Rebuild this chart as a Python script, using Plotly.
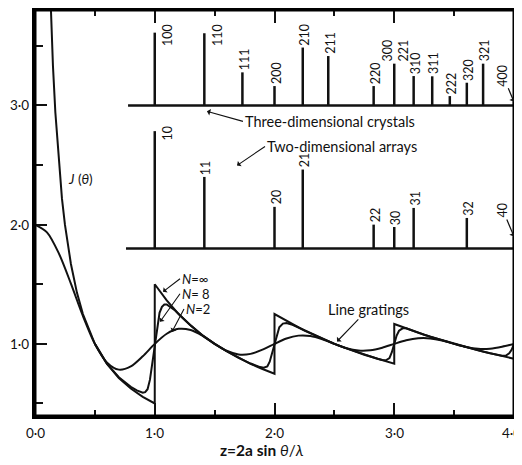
import plotly.graph_objects as go

# ---------------- data ----------------
# Line grating, N = infinity (identical to J(theta) for z < 1)
z_inf = [0.12, 0.13, 0.14, 0.15, 0.17, 0.2, 0.225, 0.25, 0.3, 0.35, 0.4, 0.5, 0.6, 0.7, 0.8, 0.9, 1.0,
         1.0, 1.1, 1.2, 1.3, 1.4, 1.5, 1.6, 1.7, 1.8, 1.9, 2.0,
         2.0, 2.25, 2.5, 2.75, 3.0,
         3.0, 3.25, 3.5, 3.75, 4.0]
v_inf = [4.17, 3.85, 3.57, 3.33, 2.94, 2.5, 2.22, 2.0, 1.67, 1.43, 1.25, 1.0, 0.833, 0.714, 0.625, 0.556, 0.5,
         1.5, 1.364, 1.25, 1.154, 1.071, 1.0, 0.938, 0.882, 0.833, 0.789, 0.75,
         1.25, 1.111, 1.0, 0.909, 0.833,
         1.167, 1.077, 1.0, 0.933, 0.875]

# Line grating, N = 8
z_n8 = [0.5, 0.6, 0.7, 0.8, 0.85, 0.88, 0.9, 0.92, 0.94, 0.96, 0.98, 1.0, 1.02, 1.04, 1.06, 1.08, 1.1,
        1.13, 1.17, 1.22, 1.3, 1.4, 1.5, 1.6, 1.7, 1.8, 1.85, 1.88, 1.91, 1.94, 1.96, 1.98, 2.0,
        2.02, 2.04, 2.07, 2.1, 2.15, 2.2, 2.3, 2.4, 2.5, 2.6, 2.7, 2.8, 2.86, 2.9, 2.93, 2.96, 2.98,
        3.0, 3.02, 3.04, 3.07, 3.1, 3.15, 3.2, 3.3, 3.4, 3.5, 3.6, 3.7, 3.8, 3.86, 3.9, 3.93, 3.96,
        3.98, 4.0]
v_n8 = [1.0, 0.835, 0.72, 0.64, 0.61, 0.595, 0.59, 0.595, 0.62, 0.7, 0.84, 1.0, 1.15, 1.26, 1.31, 1.33, 1.33,
        1.31, 1.28, 1.23, 1.155, 1.07, 1.0, 0.94, 0.882, 0.835, 0.815, 0.805, 0.80, 0.81, 0.85, 0.92, 1.0,
        1.08, 1.14, 1.17, 1.175, 1.16, 1.137, 1.087, 1.042, 1.0, 0.962, 0.926, 0.893, 0.875, 0.865, 0.862,
        0.88, 0.93,
        1.0, 1.07, 1.11, 1.13, 1.13, 1.11, 1.094, 1.06, 1.03, 1.0, 0.972, 0.946, 0.921, 0.907, 0.9, 0.9,
        0.92, 0.95, 1.0]

# Line grating, N = 2
z_n2 = [0.0, 0.1, 0.2, 0.3, 0.4, 0.5, 0.6, 0.7, 0.8, 0.9, 1.0, 1.1, 1.2, 1.3, 1.4, 1.5, 1.6, 1.7, 1.8,
        1.9, 2.0, 2.1, 2.2, 2.3, 2.4, 2.5, 2.6, 2.7, 2.8, 2.9, 3.0, 3.1, 3.2, 3.3, 3.4, 3.5, 3.6, 3.7,
        3.8, 3.9, 4.0]
v_n2 = [2.0, 1.935, 1.757, 1.505, 1.234, 1.0, 0.844, 0.784, 0.811, 0.896, 1.0, 1.085, 1.126, 1.116,
        1.067, 1.0, 0.942, 0.911, 0.916, 0.951, 1.0, 1.045, 1.069, 1.066, 1.039, 1.0, 0.964, 0.944,
        0.946, 0.968, 1.0, 1.030, 1.047, 1.046, 1.028, 1.0, 0.974, 0.959, 0.960, 0.976, 1.0]

# Three-dimensional crystals
labels3 = ["100", "110", "111", "200", "210", "211", "220", "300, 221", "310", "311", "222", "320", "321", "400"]
pos3 = [1.0, 1.414, 1.732, 2.0, 2.236, 2.449, 2.828, 3.0, 3.162, 3.317, 3.464, 3.606, 3.742, 4.0]
top3 = [3.61, 3.605, 3.277, 3.162, 3.485, 3.414, 3.162, 3.35, 3.246, 3.244, 3.078, 3.19, 3.35, 3.03]
base3 = 3.0
start3 = 0.777

# Two-dimensional arrays
labels2 = ["10", "11", "20", "21", "22", "30", "31", "32", "40"]
pos2 = [1.0, 1.414, 2.0, 2.236, 2.828, 3.0, 3.162, 3.606, 4.0]
top2 = [2.784, 2.40, 2.149, 2.462, 2.0, 1.98, 2.14, 2.056, 1.90]
base2 = 1.80
start2 = 0.76

x_ticks = [0, 1, 2, 3, 4]
x_ticktext = ["0·0", "1·0", "2·0", "3·0", "4·0"]
x_minor = [0.5, 1.5, 2.5, 3.5]
y_ticks = [1, 2, 3]
y_ticktext = ["1·0", "2·0", "3·0"]
y_minor = [0.5, 1.5, 2.5, 3.5]

# ---------------- figure ----------------
INK = "#111111"
FONT = "Lato"

fig = go.Figure()

line_style = dict(color=INK, width=2)
fig.add_trace(go.Scatter(x=z_n2, y=v_n2, mode="lines", line=dict(shape="spline", smoothing=0.8, **line_style)))
fig.add_trace(go.Scatter(x=z_n8, y=v_n8, mode="lines", line=line_style))
fig.add_trace(go.Scatter(x=z_inf, y=v_inf, mode="lines", line=line_style))


def spikes(pos, top, base, start):
    xs, ys = [start, 4.0, None], [base, base, None]
    for p, t in zip(pos, top):
        xs += [p, p, None]
        ys += [base, t, None]
    return xs, ys


for pos, top, base, start in [(pos3, top3, base3, start3), (pos2, top2, base2, start2)]:
    xs, ys = spikes(pos, top, base, start)
    fig.add_trace(go.Scatter(x=xs, y=ys, mode="lines", line=dict(color=INK, width=2.5)))

annotations = []


def add_labels(labels, pos, top, beside_limit):
    for lab, p, t in zip(labels, pos, top):
        text = lab.replace(", ", "<br>")
        common = dict(x=p, y=t, text=text, textangle=-90, font=dict(family=FONT, size=12.5, color=INK))
        if p >= 4.0:
            annotations.append(dict(showarrow=True, arrowhead=1, arrowsize=1, arrowwidth=1.2,
                                    arrowcolor=INK, ax=-11, ay=-26, **common))
        elif t > beside_limit:
            annotations.append(dict(showarrow=False, xanchor="left", yanchor="middle",
                                    xshift=3, yshift=-2, **common))
        else:
            annotations.append(dict(showarrow=False, xanchor="center", yanchor="bottom",
                                    xshift=1.5, yshift=0, **common))


add_labels(labels3, pos3, top3, 3.55)
add_labels(labels2, pos2, top2, 2.6)

tick_font = dict(family=FONT, size=13.5, color=INK)
for v, t in zip(x_ticks, x_ticktext):
    annotations.append(dict(x=v, y=0, yref="paper", text=t, showarrow=False,
                            xanchor="center", yanchor="middle", yshift=-17,
                            xshift=-3 if v == x_ticks[-1] else 0, font=tick_font))
for v, t in zip(y_ticks, y_ticktext):
    annotations.append(dict(x=0, xref="paper", y=v, text=t, showarrow=False,
                            xanchor="right", yanchor="middle", xshift=-4, font=tick_font))

txt_font = dict(family=FONT, size=14.5, color=INK)
arrow = dict(showarrow=True, arrowhead=1, arrowsize=1, arrowwidth=1.1, arrowcolor=INK)
n_font = dict(family=FONT, size=13, color=INK)

annotations += [
    dict(x=1.436, y=2.95, text="Three-dimensional crystals", xanchor="left", yanchor="middle",
         ax=36, ay=10, font=txt_font, **arrow),
    dict(x=1.687, y=2.496, text="Two-dimensional arrays", xanchor="left", yanchor="middle",
         ax=28, ay=-19, font=txt_font, **arrow),
    dict(x=2.522, y=1.02, text="Line gratings", ax=31, ay=-32, font=txt_font, **arrow),
    dict(x=0.376, y=2.38, text="<i>J</i> (<i>θ</i>)", showarrow=False, font=dict(family=FONT, size=13.5, color=INK)),
    dict(x=1.069, y=1.437, text="<i>N</i>=∞", xanchor="left", yanchor="middle", ax=17, ay=-13,
         font=n_font, **arrow),
    dict(x=1.044, y=1.185, text="<i>N</i>= 8", xanchor="left", yanchor="middle", ax=20, ay=-28,
         font=n_font, **arrow),
    dict(x=1.144, y=1.10, text="<i>N</i>=2", xanchor="left", yanchor="middle", ax=12, ay=-23,
         font=n_font, **arrow),
    dict(x=0.474, y=0, xref="paper", yref="paper", yshift=-34, xanchor="center", yanchor="middle",
         showarrow=False, text="<b>z=2a sin </b><i>θ</i>/<i>λ</i>", font=dict(family=FONT, size=15.5, color=INK)),
]

# the page body has an 8 px margin, so the figure is drawn 8 px smaller
fig.update_layout(
    width=514, height=457,
    margin=dict(l=27, r=8, t=2, b=49, autoexpand=False),
    paper_bgcolor="white", plot_bgcolor="white",
    showlegend=False,
    annotations=annotations,
    font=dict(family=FONT, color=INK),
    shapes=[dict(type="rect", xref="paper", yref="paper", x0=0, y0=0, x1=1, y1=1,
                 line=dict(color="#000000", width=3))],
)

fig.update_xaxes(
    range=[0, 4], showgrid=False, zeroline=False, showticklabels=False,
    showline=True, linewidth=3, linecolor="#000000", mirror="ticks",
    ticks="inside", ticklen=13, tickwidth=2, tickcolor=INK, tickvals=x_ticks,
    minor=dict(tickvals=x_minor, ticks="inside", ticklen=6, tickwidth=2, tickcolor=INK),
)
fig.update_yaxes(
    range=[0.395, 3.80], showgrid=False, zeroline=False, showticklabels=False,
    showline=True, linewidth=3, linecolor="#000000", mirror=True,
    ticks="inside", ticklen=12, tickwidth=2, tickcolor=INK, tickvals=y_ticks,
    minor=dict(tickvals=y_minor, ticks="inside", ticklen=8, tickwidth=2, tickcolor=INK),
)

fig.write_html("out.html")
